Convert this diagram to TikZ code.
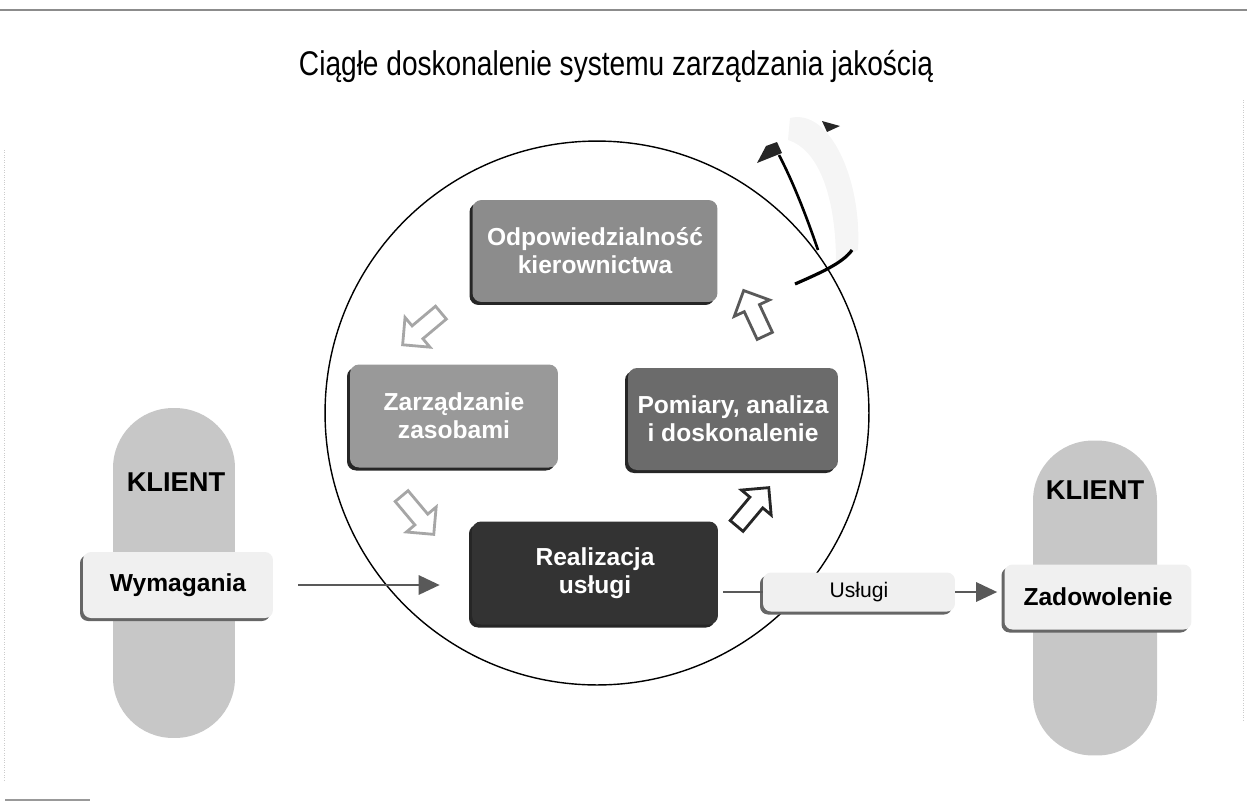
\documentclass[tikz,border=0pt]{standalone}
\usepackage{fontspec}
\setmainfont{Liberation Sans}
\newfontfamily\narrowfont[FakeStretch=0.82]{Liberation Sans}
\usetikzlibrary{shapes.arrows,shadows,arrows.meta}
\begin{document}
\begin{tikzpicture}[x=0.02cm,y=-0.02cm,
  procbox/.style={rounded corners=0.18cm, align=center, text=white,
    font=\bfseries\fontsize{14}{16}\selectfont,
    drop shadow={shadow xshift=-0.06cm, shadow yshift=-0.06cm, fill=black!85, opacity=1}},
  whitebox/.style={rounded corners=0.16cm, align=center, fill=black!6,
    drop shadow={shadow xshift=-0.06cm, shadow yshift=-0.06cm, fill=black!60, opacity=1}},
  pill/.style={rounded corners=1.2cm, fill=black!22},
  klient/.style={font=\bfseries\fontsize{15.5}{18}\selectfont},
  barrow/.style={single arrow, fill=white, line width=1.6pt, minimum height=1.0cm,
    inner sep=0.14cm, single arrow head extend=0.22cm},
  conn/.style={draw=black!65, line width=1.3pt},
  tip/.style={-{Triangle[length=12pt,width=11pt]}}
]
\useasboundingbox (0,0) rectangle (1247,802);
% page edges
\draw[black!45, line width=0.6pt] (0,10) -- (1247,10);
\draw[black!40, line width=0.6pt] (5,800) -- (90,800);
\draw[black!20, densely dotted] (4,150) -- (4,780);
\draw[black!20, densely dotted] (1243,100) -- (1243,720);
% title
\node[font=\narrowfont\fontsize{19.5}{22}\selectfont] (title) at (616,66) {Ciągłe doskonalenie systemu zarządzania jakością};
% pills
\node[pill, minimum width=2.44cm, minimum height=6.6cm] (pillL) at (174,573) {};
\node[pill, minimum width=2.48cm, minimum height=6.3cm] (pillR) at (1095,598) {};
\node[klient] (klL) at (176,482) {KLIENT};
\node[klient] (klR) at (1095,490) {KLIENT};
% faint swirl
\fill[black!4] (790,118) .. controls (830,108) and (862,180) .. (858,250)
  -- (836,262) .. controls (836,200) and (820,150) .. (788,140) -- cycle;
% circle
\node[circle, draw, line width=0.8pt, minimum size=10.88cm, inner sep=0] (circ) at (597,413) {};
% exit arrow
\draw[line width=1.5pt] (818,250) .. controls (805,212) and (792,180) .. (779,155);
\fill[black!85] (757,163) -- (766,146) -- (777,142) -- (782,153) -- cycle;
\fill[black!85] (822,121) -- (840,126) -- (827,132) -- cycle;
\draw[line width=1.8pt] (795,284) .. controls (820,273) and (843,263) .. (852,250);
% process boxes
\node[procbox, fill=black!45, minimum width=4.9cm, minimum height=2.04cm] (odp) at (595,251) {Odpowiedzialność\\kierownictwa};
\node[procbox, fill=black!40, minimum width=4.16cm, minimum height=2.06cm] (zar) at (454,416) {Zarządzanie\\zasobami};
\node[procbox, fill=black!58, minimum width=4.2cm, minimum height=2.04cm] (pom) at (733,419) {Pomiary, analiza\\i doskonalenie};
\node[procbox, fill=black!80, minimum width=4.92cm, minimum height=2.06cm] (real) at (595,573) {Realizacja\\usługi};
% block arrows
\node[barrow, draw=black!35, rotate=220] (a1) at (425,326) {};
\node[barrow, draw=black!35, rotate=-50] (a2) at (415,512) {};
\node[barrow, draw=black!85, rotate=50] (a3) at (750,510) {};
\node[barrow, draw=black!65, rotate=115] (a4) at (756,317) {};
% client boxes
\node[whitebox, minimum width=3.8cm, minimum height=1.32cm, font=\bfseries\fontsize{14}{16}\selectfont] (wym) at (178,585) {Wymagania};
\node[whitebox, minimum width=3.74cm, minimum height=1.3cm, font=\bfseries\fontsize{14}{16}\selectfont] (zad) at (1098,597) {Zadowolenie};
\node[whitebox, minimum width=3.84cm, minimum height=0.78cm, font=\fontsize{12}{14}\selectfont] (usl) at (859,592) {Usługi};
% connectors
\draw[conn, tip, shorten <=0.5cm, shorten >=0.64cm] (wym.east) -- (wym.east -| real.west);
\draw[conn, shorten <=0.1cm] (real.east |- usl.west) -- (usl.west);
\draw[conn, tip, shorten >=0.14cm] (usl.east) -- (usl.east -| zad.west);
\end{tikzpicture}
\end{document}
